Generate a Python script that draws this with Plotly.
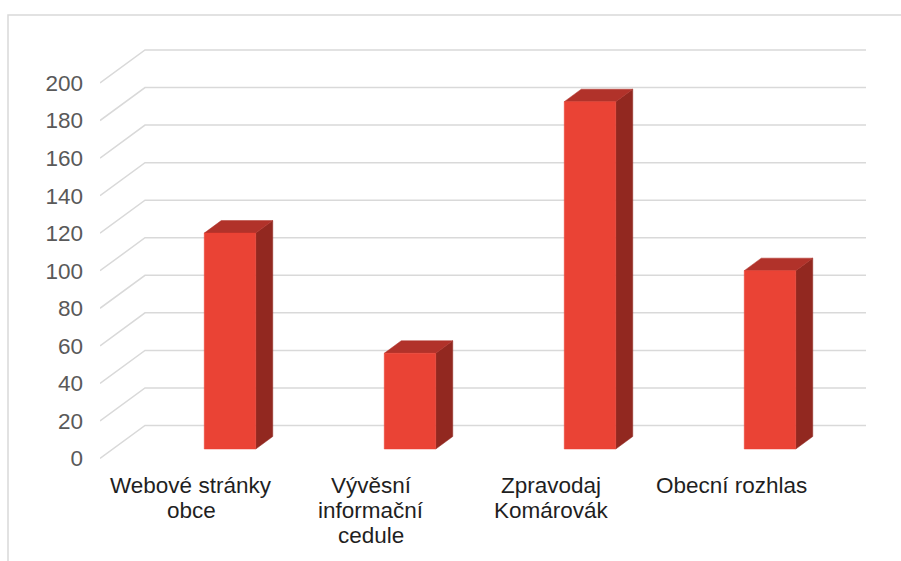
import plotly.graph_objects as go

# ---- data ----
categories = ["Webové stránky\nobce", "Vývěsní\ninformační\ncedule", "Zpravodaj\nKomárovák", "Obecní rozhlas"]
values = [115, 51, 185, 95]
y_ticks = [0, 20, 40, 60, 80, 100, 120, 140, 160, 180, 200]

# ---- style / geometry constants (pixels converted to axis units) ----
W, H = 901, 561
M_L, M_R, M_T, M_B = 100, 35, 40, 95
PLOT_W, PLOT_H = W - M_L - M_R, H - M_T - M_B
PX_PER_CAT = 180.0
PX_PER_VAL = 1.8775
ZERO_PX = 458.5          # pixel row of value 0 on the front plane
CAT0_PX = 230.0          # pixel column of first category centre

def px_x(p):  # pixel column -> x axis units
    return (p - CAT0_PX) / PX_PER_CAT

def px_y(p):  # pixel row -> y axis units
    return (ZERO_PX - p) / PX_PER_VAL

def paper_y(p):  # pixel row -> paper units
    return 1 - (p - M_T) / PLOT_H

x_min, x_max = px_x(M_L), px_x(W - M_R)
y_min, y_max = px_y(H - M_B), px_y(M_T)

wall_dx, wall_dy = 45 / PX_PER_CAT, 33 / PX_PER_VAL        # back wall offset
bar_dx, bar_dy = 17 / PX_PER_CAT, 12.5 / PX_PER_VAL        # bar depth
bar_hw = 25.75 / PX_PER_CAT
bar_base = (ZERO_PX - 449) / PX_PER_VAL

GRID = "#d9d9d9"
FRONT = "#ea4335"
TOP = "#b1322a"
SIDE = "#922820"
FONT = "Liberation Sans, Arial, sans-serif"
FS = 22.5

fig = go.Figure()

# gridlines: left wall diagonals + back wall horizontals
gx, gy = [], []
for v in y_ticks:
    gx += [x_min, x_min + wall_dx, x_max, None]
    gy += [v, v + wall_dy, v + wall_dy, None]
fig.add_trace(go.Scatter(x=gx, y=gy, mode="lines", line=dict(color=GRID, width=1.5),
                         hoverinfo="skip", showlegend=False, cliponaxis=False))

# 3D bars
for i, v in enumerate(values):
    x0, x1 = i - bar_hw, i + bar_hw
    y0, y1 = bar_base, bar_base + v
    side = ([x1, x1 + bar_dx, x1 + bar_dx, x1, x1], [y0, y0 + bar_dy, y1 + bar_dy, y1, y0])
    top = ([x0, x1, x1 + bar_dx, x0 + bar_dx, x0], [y1, y1, y1 + bar_dy, y1 + bar_dy, y1])
    front = ([x0, x1, x1, x0, x0], [y0, y0, y1, y1, y0])
    for (xs, ys), col in ((side, SIDE), (top, TOP), (front, FRONT)):
        fig.add_trace(go.Scatter(x=xs, y=ys, mode="lines", fill="toself", fillcolor=col,
                                 line=dict(color=col, width=0.5), hoverinfo="skip",
                                 showlegend=False))

# category labels (one annotation per line for tight line spacing)
LABEL_DX = -39 / PX_PER_CAT
FIRST_LINE_PX = 485
LINE_PX = 25
for i, lab in enumerate(categories):
    for j, line in enumerate(lab.split("\n")):
        fig.add_annotation(x=i + LABEL_DX, y=paper_y(FIRST_LINE_PX + j * LINE_PX),
                           xref="x", yref="paper", text=line, showarrow=False,
                           xanchor="center", yanchor="middle",
                           font=dict(family=FONT, size=FS, color="#1f1f1f"))

# outer border
fig.add_shape(type="rect", xref="paper", yref="paper",
              x0=(8 - M_L) / PLOT_W, x1=1.2,
              y0=-0.5, y1=paper_y(15),
              line=dict(color=GRID, width=1.5), fillcolor="rgba(0,0,0,0)", layer="below")

fig.update_layout(
    width=W, height=H,
    margin=dict(l=M_L, r=M_R, t=M_T, b=M_B, pad=0),
    paper_bgcolor="white", plot_bgcolor="white",
    hovermode=False,
    xaxis=dict(range=[x_min, x_max], visible=False, fixedrange=True),
    yaxis=dict(range=[y_min, y_max], tickvals=y_ticks, showgrid=False, zeroline=False,
               showline=False, ticks="", ticklabelstandoff=16,
               tickfont=dict(family=FONT, size=FS, color="#595959"), fixedrange=True),
)

fig.write_html("out.html", config={"displayModeBar": False, "staticPlot": True})

# remove the browser's default page margin so the figure sits at (0, 0)
with open("out.html", encoding="utf-8") as f:
    html = f.read()
html = html.replace("<body>", '<body style="margin:0;overflow:hidden">', 1)
with open("out.html", "w", encoding="utf-8") as f:
    f.write(html)
